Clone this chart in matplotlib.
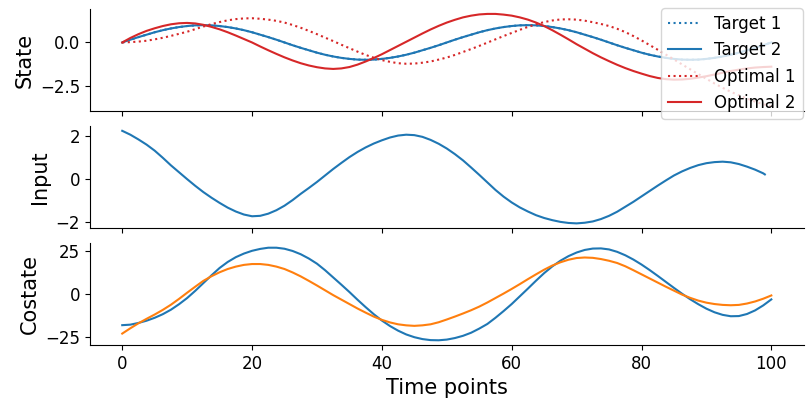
import matplotlib
matplotlib.use('Agg')
import matplotlib.pyplot as plt

# Time points (sampled every 1.25 steps)
time_state = [0, 1.25, 2.5, 3.75, 5, 6.25, 7.5, 8.75, 10, 11.25,
              12.5, 13.75, 15, 16.25, 17.5, 18.75, 20, 21.25, 22.5, 23.75,
              25, 26.25, 27.5, 28.75, 30, 31.25, 32.5, 33.75, 35, 36.25,
              37.5, 38.75, 40, 41.25, 42.5, 43.75, 45, 46.25, 47.5, 48.75,
              50, 51.25, 52.5, 53.75, 55, 56.25, 57.5, 58.75, 60, 61.25,
              62.5, 63.75, 65, 66.25, 67.5, 68.75, 70, 71.25, 72.5, 73.75,
              75, 76.25, 77.5, 78.75, 80, 81.25, 82.5, 83.75, 85, 86.25,
              87.5, 88.75, 90, 91.25, 92.5, 93.75, 95, 96.25, 97.5, 98.75,
              100]
# the input has no value at the last time point
time_input = time_state[:-1] + [99]

target_1 = [0, 0.16, 0.31, 0.45, 0.59, 0.71, 0.81, 0.89, 0.95, 0.99,
            1.0, 0.99, 0.95, 0.89, 0.81, 0.71, 0.59, 0.45, 0.31, 0.16,
            0, -0.16, -0.31, -0.45, -0.59, -0.71, -0.81, -0.89, -0.95, -0.99,
            -1.0, -0.99, -0.95, -0.89, -0.81, -0.71, -0.59, -0.45, -0.31, -0.16,
            0, 0.16, 0.31, 0.45, 0.59, 0.71, 0.81, 0.89, 0.95, 0.99,
            1.0, 0.99, 0.95, 0.89, 0.81, 0.71, 0.59, 0.45, 0.31, 0.16,
            0, -0.16, -0.31, -0.45, -0.59, -0.71, -0.81, -0.89, -0.95, -0.99,
            -1.0, -0.99, -0.95, -0.89, -0.81, -0.71, -0.59, -0.45, -0.31, -0.16,
            0]
target_2 = [0, 0.16, 0.31, 0.45, 0.59, 0.71, 0.81, 0.89, 0.95, 0.99,
            1.0, 0.99, 0.95, 0.89, 0.81, 0.71, 0.59, 0.45, 0.31, 0.16,
            0, -0.16, -0.31, -0.45, -0.59, -0.71, -0.81, -0.89, -0.95, -0.99,
            -1.0, -0.99, -0.95, -0.89, -0.81, -0.71, -0.59, -0.45, -0.31, -0.16,
            0, 0.16, 0.31, 0.45, 0.59, 0.71, 0.81, 0.89, 0.95, 0.99,
            1.0, 0.99, 0.95, 0.89, 0.81, 0.71, 0.59, 0.45, 0.31, 0.16,
            0, -0.16, -0.31, -0.45, -0.59, -0.71, -0.81, -0.89, -0.95, -0.99,
            -1.0, -0.99, -0.95, -0.89, -0.81, -0.71, -0.59, -0.45, -0.31, -0.16,
            0]
optimal_1 = [0, 0.02, 0.05, 0.10, 0.18, 0.27, 0.38, 0.50, 0.62, 0.77,
             0.92, 1.06, 1.18, 1.28, 1.35, 1.39, 1.40, 1.37, 1.32, 1.25,
             1.15, 1.01, 0.85, 0.67, 0.48, 0.28, 0.08, -0.13, -0.33, -0.53,
             -0.72, -0.88, -1.02, -1.12, -1.20, -1.23, -1.22, -1.17, -1.10, -0.99,
             -0.87, -0.72, -0.55, -0.38, -0.20, -0.01, 0.18, 0.37, 0.55, 0.73,
             0.90, 1.05, 1.18, 1.27, 1.33, 1.34, 1.32, 1.26, 1.17, 1.07,
             0.95, 0.79, 0.60, 0.37, 0.12, -0.15, -0.42, -0.70, -0.98, -1.27,
             -1.55, -1.83, -2.10, -2.37, -2.62, -2.85, -3.05, -3.24, -3.42, -3.57,
             -3.70]
optimal_2 = [0, 0.26, 0.48, 0.67, 0.82, 0.95, 1.05, 1.11, 1.13, 1.10,
             1.02, 0.90, 0.76, 0.59, 0.40, 0.20, 0.0, -0.23, -0.45, -0.66,
             -0.86, -1.04, -1.20, -1.33, -1.43, -1.50, -1.53, -1.50, -1.42, -1.28,
             -1.10, -0.90, -0.68, -0.44, -0.20, 0.04, 0.28, 0.52, 0.75, 0.96,
             1.15, 1.31, 1.45, 1.55, 1.62, 1.65, 1.65, 1.61, 1.55, 1.45,
             1.32, 1.15, 0.95, 0.71, 0.45, 0.18, -0.10, -0.36, -0.62, -0.86,
             -1.08, -1.29, -1.48, -1.65, -1.80, -1.94, -2.05, -2.12, -2.15, -2.14,
             -2.10, -2.03, -1.95, -1.85, -1.75, -1.65, -1.57, -1.50, -1.45, -1.42,
             -1.40]

control_input = [2.22, 2.04, 1.82, 1.58, 1.30, 0.97, 0.62, 0.30, -0.02, -0.33,
                 -0.62, -0.88, -1.12, -1.34, -1.52, -1.66, -1.74, -1.72, -1.62, -1.46,
                 -1.25, -0.99, -0.70, -0.43, -0.15, 0.15, 0.45, 0.73, 1.00, 1.24,
                 1.45, 1.63, 1.78, 1.91, 2.00, 2.04, 2.02, 1.94, 1.80, 1.62,
                 1.40, 1.14, 0.85, 0.52, 0.18, -0.17, -0.52, -0.83, -1.10, -1.33,
                 -1.52, -1.69, -1.82, -1.92, -2.00, -2.05, -2.07, -2.04, -1.98, -1.87,
                 -1.72, -1.53, -1.30, -1.07, -0.82, -0.57, -0.32, -0.08, 0.15, 0.34,
                 0.50, 0.63, 0.72, 0.77, 0.79, 0.76, 0.68, 0.56, 0.42, 0.25,
                 0.20]

costate_1 = [-18.3, -18.0, -17.0, -15.7, -14.0, -11.9, -9.3, -6.1, -2.5, 1.7,
             6.2, 10.7, 15.0, 18.5, 21.3, 23.4, 25.0, 26.1, 26.8, 26.8,
             26.2, 24.9, 23.0, 20.5, 17.5, 13.7, 9.5, 5.3, 1.0, -3.5,
             -7.8, -11.9, -15.6, -18.8, -21.5, -23.7, -25.3, -26.4, -27.0, -27.1,
             -26.7, -25.8, -24.5, -22.7, -20.3, -17.6, -14.0, -10.1, -6.0, -1.5,
             3.0, 7.6, 12.0, 15.9, 19.2, 21.9, 24.0, 25.5, 26.3, 26.4,
             25.8, 24.4, 22.4, 19.9, 17.0, 13.8, 10.4, 6.9, 3.4, 0.0,
             -3.2, -6.1, -8.7, -10.8, -12.3, -13.1, -13.0, -11.8, -9.7, -6.8,
             -3.3]
costate_2 = [-23.2, -20.1, -17.2, -14.6, -12.1, -9.4, -6.4, -3.0, 0.6, 4.1,
             7.5, 10.2, 12.5, 14.4, 15.8, 16.8, 17.3, 17.3, 16.8, 15.8,
             14.4, 12.4, 10.1, 7.5, 4.8, 2.0, -0.8, -3.4, -6.0, -8.6,
             -11.0, -13.3, -15.2, -16.7, -17.8, -18.4, -18.7, -18.4, -17.8, -16.6,
             -15.0, -13.3, -11.5, -9.6, -7.5, -5.1, -2.5, 0.1, 2.8, 5.6,
             8.5, 11.3, 14.0, 16.4, 18.3, 19.8, 20.8, 21.1, 20.9, 20.2,
             19.2, 17.9, 16.0, 13.7, 11.3, 8.9, 6.5, 4.1, 1.8, -0.5,
             -2.4, -4.0, -5.2, -6.0, -6.5, -6.7, -6.5, -5.7, -4.5, -2.9,
             -1.0]

fig, axes = plt.subplots(3, 1, sharex=True, figsize=(8.11, 4.11))
plt.subplots_adjust(left=0.1107, right=0.9911, top=0.9774, bottom=0.1608, hspace=0.148)

# State
ax = axes[0]
ax.plot(time_state, target_1, color='tab:blue', linestyle=':', label='Target 1')
ax.plot(time_state, target_2, color='tab:blue', label='Target 2')
ax.plot(time_state, optimal_1, color='tab:red', linestyle=':', label='Optimal 1')
ax.plot(time_state, optimal_2, color='tab:red', label='Optimal 2')
ax.set_yticks([-2.5, 0.0])
ax.set_ylabel('State', fontsize=15)

# Input
ax = axes[1]
ax.plot(time_input, control_input, color='tab:blue')
ax.set_yticks([-2, 0, 2])
ax.set_ylabel('Input', fontsize=15)

# Costate
ax = axes[2]
ax.plot(time_state, costate_1, color='tab:blue')
ax.plot(time_state, costate_2, color='tab:orange')
ax.set_yticks([-25, 0, 25])
ax.set_ylabel('Costate', fontsize=15)
ax.set_xlabel('Time points', fontsize=15)
ax.set_xticks([0, 20, 40, 60, 80, 100])

for ax in axes:
    ax.spines['top'].set_visible(False)
    ax.spines['right'].set_visible(False)
    ax.tick_params(labelsize=12)

fig.legend(loc='upper right', fontsize=12)

plt.savefig('out.png', dpi=100)
